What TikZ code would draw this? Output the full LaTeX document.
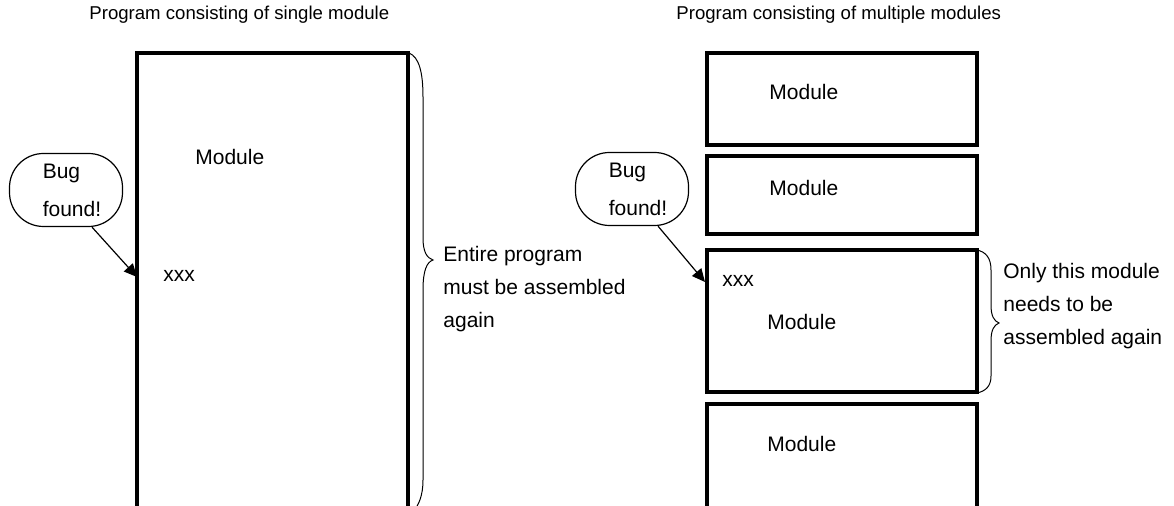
\documentclass[tikz,border=0pt]{standalone}
\usepackage{fontspec}
\setmainfont{Liberation Sans}
\usetikzlibrary{arrows.meta}
\tikzset{
  modpen/.style={line width=2pt},
  bracepen/.style={line width=0.5pt},
  bugcloud/.style={draw, line width=0.6pt, rounded corners=17pt, minimum width=56.5pt, minimum height=36.5pt, align=left, inner sep=0pt, font=\fontsize{10.5}{19}\selectfont},
  bugarrow/.style={line width=0.6pt, -{Triangle[length=6.5pt,width=6pt]}},
  txt/.style={anchor=west, inner sep=0pt, font=\fontsize{10.5}{12}\selectfont},
  multitxt/.style={anchor=west, inner sep=0pt, align=left, font=\fontsize{10.5}{16.5}\selectfont},
  headtxt/.style={anchor=west, inner sep=0pt, font=\fontsize{9.3}{11}\selectfont}
}
\begin{document}
\begin{tikzpicture}[x=0.5pt, y=-0.5pt]
			%%%%% START %%%%%
			\useasboundingbox (0, 0) rectangle (1174, 506);
			
			\node[headtxt] (titleleft) at (89, 15) {Program consisting of single module};
			\node[headtxt] (titleright) at (676, 15) {Program consisting of multiple modules};
			
			% single module
			\draw[modpen] (137, 510) -- (137, 53) -- (408, 53) -- (408, 510);
			\node[txt] (modsingle) at (195, 157) {Module};
			\node[txt] (xxxleft) at (163, 276) {xxx};
			\draw[bracepen] (409, 53) .. controls (419, 57) and (423, 72) .. (423, 97) -- (423, 238) .. controls (423, 252) and (427, 258) .. (433, 260) .. controls (427, 262) and (423, 270) .. (423, 290) -- (423, 480) .. controls (423, 495) and (419, 505) .. (413, 512);
			\node[multitxt] (entire) at (443, 289) {Entire program\\must be assembled\\again};
			
			\node[bugcloud] (bugleft) at (66, 190) {\hspace*{6pt}Bug\\\hspace*{6pt}found!};
			\coordinate (hitleft) at (137, 277);
			\draw[bugarrow] (bugleft.-55) -- (hitleft);
			
			% multiple modules
			\draw[modpen] (707, 53) rectangle (977, 145);
			\draw[modpen] (707, 156) rectangle (977, 234);
			\draw[modpen] (707, 250) rectangle (977, 392);
			\draw[modpen] (707, 510) -- (707, 404) -- (977, 404) -- (977, 510);
			\node[txt] (modone) at (769, 92) {Module};
			\node[txt] (modtwo) at (769, 188) {Module};
			\node[txt] (modthree) at (767, 322) {Module};
			\node[txt] (modfour) at (767, 444) {Module};
			\node[txt] (xxxright) at (722, 281) {xxx};
			\draw[bracepen] (977, 250) .. controls (986, 252) and (991, 258) .. (991, 270) -- (991, 305) .. controls (991, 316) and (994, 321) .. (999, 323) .. controls (994, 325) and (991, 330) .. (991, 341) -- (991, 376) .. controls (991, 386) and (986, 391) .. (977, 393);
			\node[multitxt] (onlythis) at (1003, 306) {Only this module\\needs to be\\assembled again};
			
			\node[bugcloud] (bugright) at (632, 189) {\hspace*{6pt}Bug\\\hspace*{6pt}found!};
			\coordinate (hitright) at (705, 282);
			\draw[bugarrow] (bugright.-55) -- (hitright);
			
			%%%%% END %%%%%
\end{tikzpicture}
\end{document}
